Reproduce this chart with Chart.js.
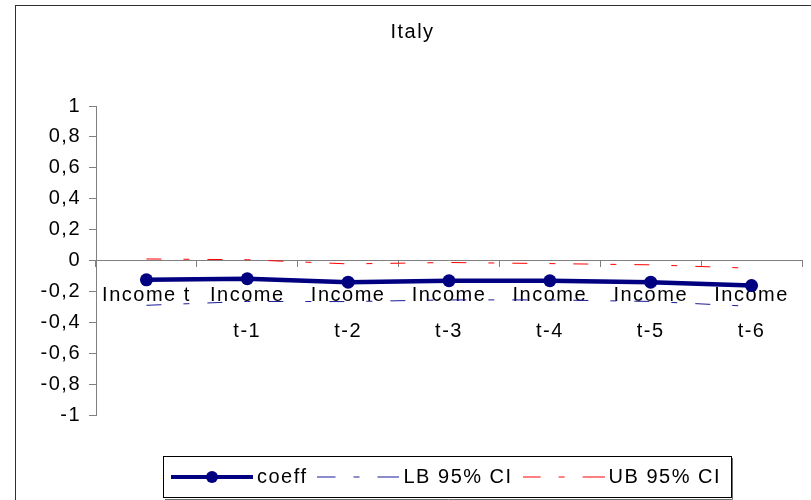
<!DOCTYPE html>
<html>
<head>
<meta charset="utf-8">
<script src="https://cdn.jsdelivr.net/npm/chart.js@4.4.0/dist/chart.umd.min.js"></script>
<style>
    html, body { margin: 0; padding: 0; background: #fff; }
</style>
</head>
<body>
<canvas id="myChart" width="811" height="500"></canvas>
<script>
// Datos
const categorias = ['Income t', ['Income', 't-1'], ['Income', 't-2'], ['Income', 't-3'], ['Income', 't-4'], ['Income', 't-5'], ['Income', 't-6']];
const coeff = [-0.125, -0.118, -0.14, -0.131, -0.131, -0.14, -0.162];
const lb95 = [-0.29, -0.265, -0.266, -0.255, -0.255, -0.265, -0.297];
const ub95 = [0.01, 0.005, -0.022, -0.013, -0.02, -0.028, -0.05];
const yTickLabels = ['-1', '-0,8', '-0,6', '-0,4', '-0,2', '0', '0,2', '0,4', '0,6', '0,8', '1'];

const FUENTE = '"Liberation Sans", Arial, sans-serif';
Chart.defaults.font.family = FUENTE;
Chart.defaults.color = '#000';

// Muestra de leyenda: línea (con punto opcional)
function muestra(color, ancho, dash, punto) {
    const c = document.createElement('canvas');
    c.width = 82;
    c.height = 14;
    const g = c.getContext('2d');
    g.strokeStyle = color;
    g.lineWidth = ancho;
    g.setLineDash(dash);
    g.beginPath();
    g.moveTo(0, 7);
    g.lineTo(82, 7);
    g.stroke();
    if (punto) {
        g.fillStyle = color;
        g.beginPath();
        g.arc(41, 7, 6, 0, Math.PI * 2);
        g.fill();
    }
    return c;
}

const muestras = [
    muestra('#000080', 4, [], true),
    muestra('#1a1a99', 1, [18, 18, 6, 18, 22], false),
    muestra('#ff0000', 1, [18, 18, 6, 18, 22], false)
];

// Texto un poco más espaciado, como en el original
const espaciadoPlugin = {
    id: 'espaciado',
    beforeLayout: (chart) => { chart.ctx.letterSpacing = '1.5px'; },
    beforeDraw: (chart) => { chart.ctx.letterSpacing = '1.5px'; }
};

// Plugin para el marco exterior y el recuadro de la leyenda
const marcoPlugin = {
    id: 'marco',
    beforeDraw: (chart) => {
        const ctx = chart.ctx;
        ctx.save();
        ctx.fillStyle = '#fff';
        ctx.fillRect(0, 0, chart.width, chart.height);
        ctx.strokeStyle = '#303030';
        ctx.lineWidth = 1;
        ctx.strokeRect(15.5, 5.5, chart.width, chart.height);
        ctx.restore();
    },
    afterDraw: (chart) => {
        const ctx = chart.ctx;
        const hb = chart.legend.legendHitBoxes;
        if (!hb || !hb.length) return;
        const l = Math.round(Math.min(...hb.map(h => h.left)) - 14);
        const r = Math.round(Math.max(...hb.map(h => h.left + h.width)) + 10);
        const cy = hb[0].top + hb[0].height / 2;
        const t = Math.round(cy - 21);
        ctx.save();
        ctx.strokeStyle = '#000';
        ctx.lineWidth = 1;
        ctx.strokeRect(l + 0.5, t + 0.5, r - l, 41);
        ctx.strokeStyle = '#707070';
        ctx.beginPath();
        ctx.moveTo(r + 1.5, t + 2);
        ctx.lineTo(r + 1.5, t + 43.5);
        ctx.lineTo(l + 2, t + 43.5);
        ctx.stroke();
        ctx.restore();
    }
};

const ctx = document.getElementById('myChart').getContext('2d');
new Chart(ctx, {
    type: 'line',
    data: {
        labels: categorias,
        datasets: [{
            label: 'coeff',
            data: coeff,
            borderColor: '#000080',
            backgroundColor: '#000080',
            borderWidth: 4.5,
            pointRadius: 6.5,
            pointBackgroundColor: '#000080',
            pointBorderWidth: 0,
            tension: 0
        }, {
            label: 'LB 95% CI',
            data: lb95,
            borderColor: '#1a1a99',
            borderWidth: 1,
            borderDash: [15, 22, 6, 18],
            pointRadius: 0,
            tension: 0
        }, {
            label: 'UB 95% CI',
            data: ub95,
            borderColor: '#ff0000',
            borderWidth: 1,
            borderDash: [15, 22, 6, 18],
            pointRadius: 0,
            tension: 0
        }]
    },
    options: {
        responsive: false,
        animation: false,
        layout: {
            padding: { left: 23, right: 9, top: 5, bottom: 3 }
        },
        scales: {
            x: {
                type: 'category',
                position: { y: 0 },
                offset: true,
                afterFit: (scale) => { scale.height = 0; },
                grid: {
                    offset: true,
                    drawOnChartArea: false,
                    tickLength: 6,
                    color: '#808080'
                },
                border: { color: '#808080', width: 1 },
                ticks: {
                    autoSkip: false,
                    maxRotation: 0,
                    padding: 10.5,
                    font: { size: 20, lineHeight: '36px' }
                }
            },
            y: {
                min: -1,
                max: 1,
                afterFit: (scale) => { scale.width = 73; },
                grid: {
                    drawOnChartArea: false,
                    tickLength: 7,
                    color: '#808080'
                },
                border: { color: '#808080', width: 1 },
                ticks: {
                    stepSize: 0.2,
                    padding: 8,
                    font: { size: 20 },
                    callback: (v, i) => yTickLabels[i]
                }
            }
        },
        plugins: {
            title: {
                display: true,
                text: 'Italy',
                color: '#000',
                font: { size: 20, weight: 'normal' },
                padding: { top: 15, bottom: 62 }
            },
            legend: {
                position: 'bottom',
                fullSize: false,
                title: {
                    display: true,
                    text: '',
                    font: { size: 10, lineHeight: 1 },
                    padding: { top: 26, bottom: 0 }
                },
                labels: {
                    usePointStyle: true,
                    pointStyleWidth: 70,
                    padding: 16,
                    color: '#000',
                    font: { size: 20 },
                    generateLabels: (chart) => {
                        const items = Chart.defaults.plugins.legend.labels.generateLabels(chart);
                        items.forEach((it, i) => { it.pointStyle = muestras[i]; });
                        return items;
                    }
                }
            },
            tooltip: { enabled: false }
        }
    },
    plugins: [espaciadoPlugin, marcoPlugin]
});
</script>
</body>
</html>
